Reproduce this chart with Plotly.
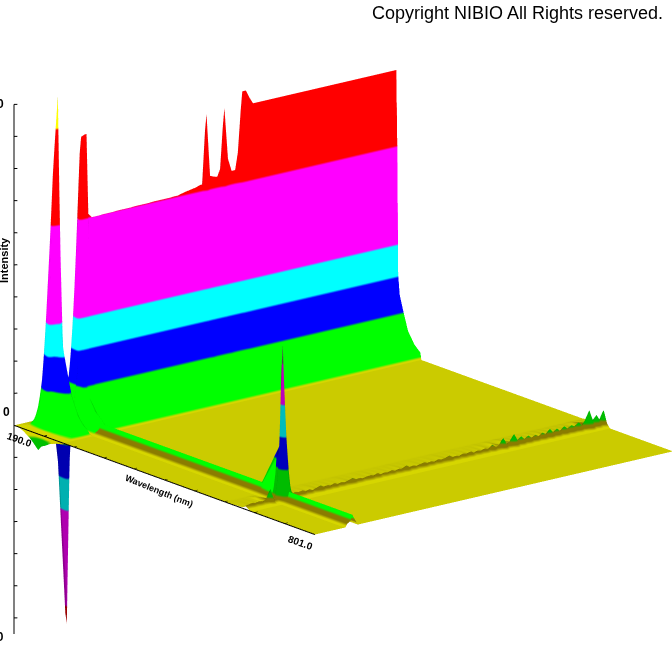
import numpy as np
import plotly.graph_objects as go

wavelengths = [190,196,202,208,214,221,227,233,236,239,241,243,246,253,263,276,288,290,343,373,434,496,557,618,648,654,657,660,663,667,673,709,740,801]
top_shape = [0,0,0,0,.05,.2,.5,.8,.95,1,.7,.1,.05,.02] + [0]*20
tail_shape = [0,.03,.1,.3,.55,.85,1.2,1.6,1.8,2,1.85,1.7,1.45,1.2,.75,.4,.22,0,0] + [0]*15
ridge_shape = [0,0,0,.2,.5,.8,1] + [1]*27
line660_shape = [0]*24 + [.25,.3,.8,1,.7,.25,0] + [0]*3

times = [0,1,2,3,4,4.5,5,5.5,6,7,7.5,8,8.5,9,9.5,10,10.4,11,12,13,13.5,14,
         15,16,17,18,19,20,21,22,23,24,25,26,27,28,29,30,31,32,33,34,35,36,37,38,39,
         40,41,42,43,44,45,46,47,48,49,50,51,52,53,54,55,56,57,58,59,
         60,61,62,63,64,65,66,67,68,69,70,71,72,73,74,75,76,77,78,79,
         80,81,82,83,84,85,86,87,88,89,90,91,92,93,94,95,96,97,98,99,100]
peak_by_time = [-.5,-.3,.3,3,7,8.5,9.5,10.4,6.5,.5,-1,-6.1,-1.5,-.2,.1,.3,.5,4,8.95,9,9,6.5,
                6.37,6.37,6.37,6.38,6.38,6.38,6.38,6.39,6.39,6.39,6.39,6.39,6.4,6.4,6.4,6.4,6.4,6.41,6.41,6.41,6.41,6.41,6.41,6.42,6.42,
                6.45,6.48,6.5,6.52,6.54,6.58,6.6,8.75,6.8,6.75,6.72,7,8.8,7.2,6.8,6.8,7.5,9.2,9.2,8.95,
                8.75,8.75,8.75,8.75,8.75,8.75,8.75,8.75,8.75,8.75,8.75,8.75,8.75,8.75,8.75,8.75,8.75,8.75,8.75,8.75,
                8.75,8.75,8.75,8.75,8.75,8.75,8.75,8.75,8.75,8.75,8.75,8.75,8.75,8.75,8.75,8.75,8.75,8.75,8.75,8.75,8.75]
tail_by_time = [-.24,-.15,.15,.6,1.2,1.6,1.8,1.8,1.6,1,.5,.15,0,.1,.4,.7,.85,1,1,1,1,1] + [1]*86
ridge_by_time = [0,0,0,0,0,0,0,0,0,0,0,0,0,.1,.13,.18,.35,.22,0,0,0,0] + [0]*86
line660_by_time = [.1,.12,.15,.12,.15,.14,.12,.14,.15,.45,.2,.17,.15,.2,.9,2.5,4.5,2.5,.4,.2,.15,.18,
    .15,.18,.12,.16,.1,.15,.2,.13,.16,.12,.17,.11,.15,.12,.16,.2,.13,.15,.11,.14,.16,.12,.17,.1,.14,.12,.16,.11,.15,.13,
    .2,.12,.15,.11,.14,.17,.12,.15,.11,.16,.13,.15,.2,.12,.14,.11,.16,.13,.17,.1,.15,.12,.16,.11,.22,.13,.15,.35,.14,.2,
    .4,.18,.28,.16,.25,.15,.22,.14,.24,.16,.3,.17,.26,.15,.28,.18,.26,.2,.3,.18,.32,.6,.25,.4,.2,.5]

top_by_time = np.array(peak_by_time) - 2*np.array(tail_by_time)
intensity = (np.outer(top_by_time, top_shape) + np.outer(tail_by_time, tail_shape)
             + np.outer(ridge_by_time, ridge_shape) + np.outer(line660_by_time, line660_shape))

low_edges = [-6.5,-5.6,-2.56,-1.56,-.5,-.15,.08]
low_colors = ['#b00000','#b000b0','#00b0b0','#0000b0','#00c000','#d6d600']
upper_edges = [1.3,2.35,3.37,6.42,9.4,10.5]
upper_colors = ['#00ff00','#0000ff','#00ffff','#ff00ff','#ff0000','#ffff00']
wall_edges = low_edges + upper_edges
wall_colors = low_colors + upper_colors
main_edges = low_edges + [.2] + upper_edges
main_colors = low_colors + ['#8a7c00'] + upper_colors
line_edges = low_edges + [.2,1.0,2.0,3.0,4.3,10.5]
line_colors = low_colors + ['#8a7c00','#00bc00','#0000bc','#00bcbc','#bc00bc','#505050']

def stepped(edges, colors):
    lo, hi = edges[0], edges[-1]
    scale = []
    for a, b, col in zip(edges[:-1], edges[1:], colors):
        scale += [[(a-lo)/(hi-lo), col], [(b-lo)/(hi-lo), col]]
    return scale

zmin, zmax = -6.5, 10.5
light = dict(ambient=.8, diffuse=.6, specular=0, roughness=.5, fresnel=.2)
light_at = dict(x=-84000, y=36800, z=-37300)
sections = [(0, 18, wall_edges, wall_colors), (17, 25, main_edges, main_colors),
            (24, 31, line_edges, line_colors), (30, 34, main_edges, main_colors)]

z_ticks = [-6,-5,-4,-3,-2,-1,1,2,3,4,5,6,7,8,9,10]
wl_ticks = [251,312,373,434,496,557,618,679,740]
z_axis_end = [-6.6, 10]

fig = go.Figure()
for start, stop, edges, colors in sections:
    part = intensity[:, start:stop]
    fig.add_trace(go.Surface(x=wavelengths[start:stop], y=times, z=part, surfacecolor=part,
        cmin=zmin, cmax=zmax, colorscale=stepped(edges, colors), showscale=False, hoverinfo='skip',
        lighting=light, lightposition=light_at))

ax_x, ax_y, ax_z = [190,190,None], [0,0,None], z_axis_end + [None]
for t in z_ticks:
    ax_x += [190,192.5,None]; ax_y += [0,.6,None]; ax_z += [t,t,None]
ax_x += [190,801,None]; ax_y += [0,0,None]; ax_z += [0,0,None]
for w in wl_ticks:
    ax_x += [w,w,None]; ax_y += [0,.8,None]; ax_z += [0,0,None]
fig.add_trace(go.Scatter3d(x=ax_x, y=ax_y, z=ax_z, mode='lines', hoverinfo='skip',
                           line=dict(color='black', width=2), showlegend=False))

hidden = dict(visible=False, showgrid=False, zeroline=False, showbackground=False, showspikes=False)
r = 2
cx, cy, cz = -.0398, .0030, .1086
fig.update_layout(
    width=672, height=672, margin=dict(l=0,r=0,t=0,b=0), paper_bgcolor='white',
    showlegend=False,
    scene=dict(
        domain=dict(x=[0,1], y=[0,1]),
        xaxis=dict(range=[190,801], **hidden), yaxis=dict(range=[0,100], **hidden),
        zaxis=dict(range=[zmin,zmax], **hidden),
        aspectmode='manual', aspectratio=dict(x=1.4337, y=1.365, z=1.697),
        camera=dict(projection=dict(type='orthographic'),
                    up=dict(x=0,y=0,z=1),
                    center=dict(x=cx,y=cy,z=cz),
                    eye=dict(x=cx+.7471*r,y=cy-.5977*r,z=cz+.2905*r)),
    ),
)
narrow = dict(family='Liberation Sans', color='black', size=10)
notes = [
    ('Copyright NIBIO All Rights reserved.', 665, 13, 0, 'right', dict(family='Liberation Sans', color='black', size=18)),
    ('<b>190.0</b>', 19, 439, 20, 'center', narrow),
    ('<b>801.0</b>', 300, 542, 20, 'center', narrow),
    ('<b>Wavelength (nm)</b>', 159, 491, 22, 'center', dict(narrow, size=9)),
    ('<b>Intensity</b>', 4, 260, -90, 'center', dict(narrow, size=11)),
    ('<b>1.0</b>', 6, 104, 0, 'right', dict(narrow, size=12)),
    ('<b>0</b>', 12, 412, 0, 'right', dict(narrow, size=12)),
    ('<b>-0.70</b>', 6, 637, 0, 'right', dict(narrow, size=12)),
]
for text, x, y, ang, anchor, f in notes:
    fig.add_annotation(text=text, x=x/672, y=1-y/672, xref='paper', yref='paper', xanchor=anchor, yanchor='middle',
                       textangle=ang, showarrow=False, font=f)
fig.write_html("out.html", config={'displayModeBar': False}, post_script="document.body.style.margin='0';")
